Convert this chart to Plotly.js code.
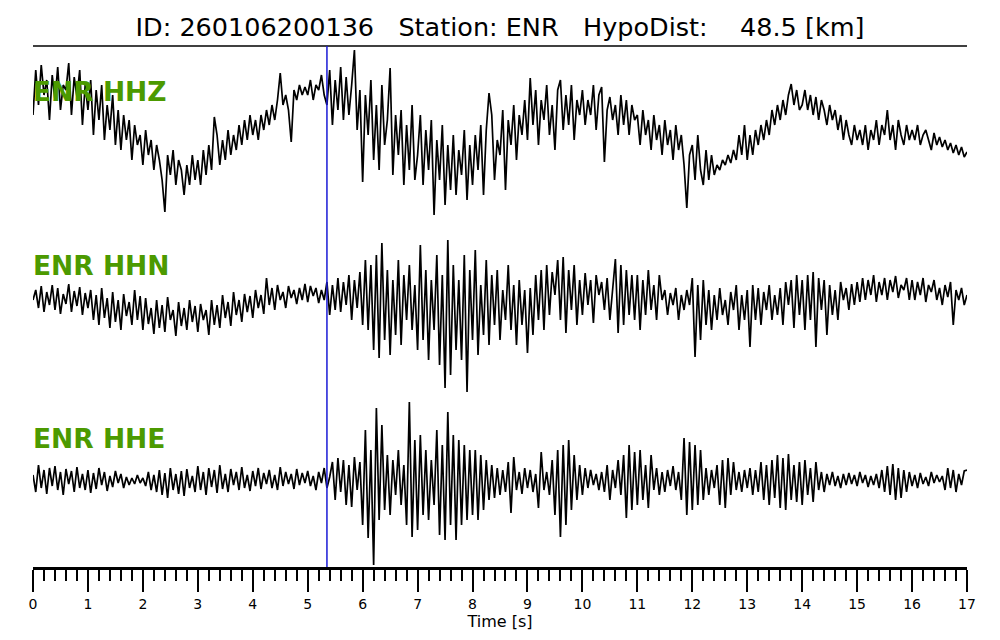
<!DOCTYPE html>
<html>
<head>
<meta charset="utf-8">
<script src="https://cdn.plot.ly/plotly-3.0.1.min.js"></script>
<style>html,body{margin:0;padding:0;background:#fff;}#chart{width:1000px;height:640px;}</style>
</head>
<body>
<div id="chart"></div>
<script>
const sampleInterval = 0.05;

// Channel names
const channels = ["ENR HHZ", "ENR HHN", "ENR HHE"];

// P-pick time (s)
const pickTime = 5.35;

// Tick labels of the time axis
const tickSeconds = [0,1,2,3,4,5,6,7,8,9,10,11,12,13,14,15,16,17];

// Trace amplitudes (relative units), one sample per 0.05 s
const hhz = [
  10, 55, 20, 60, 30, 45, 5, 50, 25, 58, 15, 40, 35, 62, 10, 48, 28, 55, 0, 40,
  15, 45, -10, 35, 5, 40, -15, 20, -5, 30, -20, 15, -25, 10, -15, 5, -35, 0, -20, -10,
  -40, -5, -30, -15, -45, -20, -35, -55, -87, -30, -50, -25, -60, -35, -45, -70, -40, -60, -30, -55,
  -35, -60, -25, -50, -20, -45, 8, -10, -40, -15, -35, -5, -30, -10, -25, 0, -20, 5, -15, 10,
  -10, 5, -15, 10, -5, 15, 0, 20, 5, 25, 52, 20, 30, 15, -17, 35, 25, 40, 30, 38,
  30, 45, 25, 40, 35, 50, 30, 20, 55, 0, 45, 15, 58, 5, 48, 10, 40, 75, -5, 35,
  -57, 30, -10, 45, -35, 20, -45, 40, -20, 5, 57, -50, 10, -30, 15, -60, 0, -45, 20, -55,
  -30, 10, -60, -5, -45, 5, -90, -15, -55, 0, -80, -20, -65, -10, -70, -25, -50, -5, -75, -20,
  -60, -10, -45, 0, -70, -5, 32, 10, -55, -15, -30, 15, -65, 5, -20, 20, -35, 10, -10, 25,
  -15, 47, 0, 35, -20, 25, 5, 40, -10, 20, -25, 35, 45, -5, 30, 0, 40, -15, 25, 10,
  35, 0, 25, 10, 40, -5, 30, 38, -37, 15, 28, 5, 20, -10, 30, 0, 25, -10, 20, 5,
  10, -20, 15, -10, 5, -25, 10, -15, 0, -30, 5, -20, -5, -35, 0, -25, -10, -40, -83, -30,
  -20, -55, -10, -45, -60, -25, -55, -30, -50, -40, -45, -35, -40, -30, -38, -25, -35, -10, -30, 0,
  -35, -10, -30, -5, -20, 0, -15, 5, -10, 15, 0, 20, 5, 25, 10, 30, 41, 20, 35, 15,
  20, 35, 15, 30, 10, 28, 5, 25, 15, 0, 20, 5, 15, -5, 10, -15, 5, -10, -20, 0,
  -15, -5, -20, 0, -25, -5, -15, 5, -20, 0, -10, 15, -15, 0, -25, 5, -10, -20, 0, -15,
  -5, -15, 0, -20, -10, -5, -15, -25, -8, -20, -12, -22, -15, -25, -18, -28, -20, -30, -22, -32,
  -27
];

const hhn = [
  0, 10, -8, 14, -12, 8, -5, 15, -10, 12, -14, 6, -4, 16, -12, 9, -6, 13, -15, 7,
  -8, 10, -20, 5, -25, 12, -18, 2, -28, 8, -22, 0, -30, 6, -16, -2, -25, 10, -20, 4,
  -30, 2, -24, -8, -34, 0, -28, -5, -32, 3, -20, -10, -36, -2, -26, -8, -30, 0, -22, -6,
  -32, -4, -20, -10, -35, 0, -25, -5, -28, 5, -18, -2, -26, 8, -15, 0, -22, 6, -12, 4,
  -18, 10, -8, 5, -14, 22, -5, 12, -10, 15, 0, 8, -8, 14, 2, 10, -4, 12, 0, 16,
  -2, 14, 4, 12, -3, 10, 0, 18, -15, 15, -10, 22, -12, 18, -5, 25, -20, 20, -8, 28,
  -25, 40, -30, 35, -50, 45, -58, 57, -40, 30, -55, 20, -35, 40, -45, 25, -20, 35, -30, 15,
  -50, 55, -40, 30, -60, 20, -30, 45, -65, 25, -88, 60, -75, 35, -50, 20, -60, 45, -92, 30,
  -40, 50, -55, 15, -35, 40, -45, 25, -25, 30, -40, 10, -20, 35, -30, 15, -45, 20, -25, 10,
  -53, 12, -35, 25, -20, 30, -30, 35, -15, 28, 5, 40, -20, 43, -33, 30, -10, 35, -25, 20,
  -15, 27, -5, 20, -23, 25, 5, 18, -10, 22, -20, 15, 41, -33, 35, -25, 30, -15, 25, -20,
  25, -30, 20, -15, 30, -10, 15, -20, 25, 0, 10, -15, 7, -5, 12, -20, 5, -10, 10, -5,
  22, -57, 15, -40, 20, -25, 10, -30, 5, -20, 12, -15, 0, -25, 8, -10, 15, -30, 5, -20,
  10, -47, 15, -20, 12, -25, 8, -10, 15, -20, 5, -15, 12, -25, 18, -5, 20, -28, 25, -15,
  20, -30, 25, -20, 28, -47, 22, -10, 20, -35, 15, -15, 10, -20, 18, 0, 12, -10, 16, -5,
  18, -2, 22, 0, 20, 5, 25, -2, 18, 5, 22, 0, 20, 8, 24, 2, 15, 10, 22, 0,
  20, 0, 18, 5, 22, -2, 15, 8, 20, 0, 12, -5, 15, 3, 18, -25, 10, 0, 12, -5,
  5
];

const hhe = [
  5, -12, 15, -8, 10, -14, 12, -6, 14, -10, 8, -15, 11, -4, 9, -12, 13, -8, 6, -10,
  10, -13, 7, -9, 12, -5, 8, -11, 4, -7, 9, -3, 6, -8, 3, -5, 2, -4, 5, -3,
  2, -6, 8, -10, 5, -12, 10, -15, 7, -18, 12, -10, 6, -14, 9, -16, 11, -8, 4, -12,
  14, -10, 8, -15, 12, -7, 10, -13, 15, -9, 6, -12, 11, -5, 8, -10, 13, -8, 5, -11,
  9, -6, 12, -9, 7, -4, 10, -8, 5, -10, 13, -6, 8, -4, 6, -9, 11, -5, 7, -3,
  9, -6, 4, -10, 8, -3, 12, -8, 3, 18, -20, 22, -12, 20, -25, 15, -27, 23, -10, 18,
  -45, 50, -58, 30, -85, 72, -40, 55, -30, 25, -35, 20, -15, 30, -25, 15, -45, 78, -57, 40,
  -50, 45, -35, 30, -40, 20, -25, 50, -55, 35, -60, 68, -45, 45, -60, 40, -45, 35, -40, 30,
  -35, 30, -40, 25, -30, 20, -20, 15, -18, 12, -15, 10, -12, 18, -33, 23, -10, 8, -14, 12,
  -8, 10, -12, 6, -28, 28, -10, 8, -15, 20, -35, 30, -57, 35, -45, 40, -30, 25, -20, 15,
  -15, 12, -8, 10, -5, 6, -10, 8, -12, 15, -20, 10, -8, 20, -15, 25, -38, 35, -30, 28,
  -25, 30, -20, 15, -28, 25, -10, 12, -15, 8, -12, 10, -6, 14, -10, 8, -20, 42, -35, 38,
  -30, 35, -25, 30, -20, 12, -15, 10, -8, 15, -25, 20, -28, 22, -15, 18, -10, 8, -12, 10,
  -8, 12, -15, 10, -12, 18, -20, 15, -25, 20, -18, 25, -28, 22, -30, 26, -20, 15, -22, 18,
  -25, 20, -15, 12, -22, 18, -10, 8, -12, 6, -5, 8, -6, 4, -8, 6, -5, 7, -4, 5,
  -6, 8, -3, 5, -7, 4, -5, 6, -8, 10, -12, 14, -15, 16, -20, 12, -18, 10, -12, 8,
  -6, 5, -8, 7, -4, 3, -6, 8, -3, 5, -2, 4, -10, 12, -8, 10, -12, 6, -5, 9,
  10
];

// ---- presentation ----
const series = [hhz, hhn, hhe];
const baselines = [442, 267, 87];      // vertical offset of each trace
const labelY = [476, 302, 129];
const green = "#4c9a00";

const traces = series.map((vals, k) => ({
  type: "scatter",
  mode: "lines",
  x: vals.map((_, i) => i * sampleInterval),
  y: vals.map(v => v + baselines[k]),
  line: {color: "#000000", width: 1.7},
  hoverinfo: "skip",
  showlegend: false
}));

const nb = "\u00a0";
const titleText = "ID:" + nb + "260106200136" + nb.repeat(3) + "Station:" + nb + "ENR" + nb.repeat(3) + "HypoDist:" + nb.repeat(4) + "48.5" + nb + "[km]";

const layout = {
  width: 1000, height: 640,
  paper_bgcolor: "#ffffff", plot_bgcolor: "#ffffff",
  margin: {l: 33, r: 33, t: 46, b: 73, pad: 0},
  font: {family: "DejaVu Sans, sans-serif", color: "#000000"},
  title: {text: titleText, font: {size: 25.5, family: "DejaVu Sans, sans-serif", color: "#000"},
          x: 0.5, xanchor: "center", y: 1 - 27/640, yanchor: "middle", yref: "container"},
  xaxis: {
    range: [0, 17], autorange: false,
    tickvals: tickSeconds, ticktext: tickSeconds.map(String),
    ticks: "outside", ticklen: 22, tickwidth: 2, tickcolor: "#000",
    showline: true, linewidth: 3, linecolor: "#000",
    showgrid: false, zeroline: false,
    tickfont: {size: 14, family: "DejaVu Sans, sans-serif"},
    minor: {dtick: 0.2, ticks: "outside", ticklen: 11, tickwidth: 2, tickcolor: "#000", showgrid: false},
    title: {text: "Time [s]", font: {size: 16, family: "DejaVu Sans, sans-serif"}, standoff: 0},
    automargin: false, fixedrange: true
  },
  yaxis: {range: [0, 521], autorange: false, visible: false, showgrid: false, zeroline: false, fixedrange: true},
  shapes: [
    {type: "line", xref: "paper", yref: "paper", x0: 0, x1: 1, y0: 1, y1: 1, line: {color: "#000", width: 1.5}},
    {type: "line", xref: "x", yref: "paper", x0: pickTime, x1: pickTime, y0: 0, y1: 1, line: {color: "#1a1ad6", width: 1.5}, layer: "above"}
  ],
  annotations: channels.map((c, k) => ({
    text: "<b>" + c + "</b>", x: 0, y: labelY[k], xref: "x", yref: "y",
    xanchor: "left", yanchor: "middle", showarrow: false, xshift: -2,
    font: {size: 26.5, color: green, family: "DejaVu Sans, sans-serif"}
  }))
};

Plotly.newPlot("chart", traces, layout, {staticPlot: true, displayModeBar: false});
</script>
</body>
</html>
